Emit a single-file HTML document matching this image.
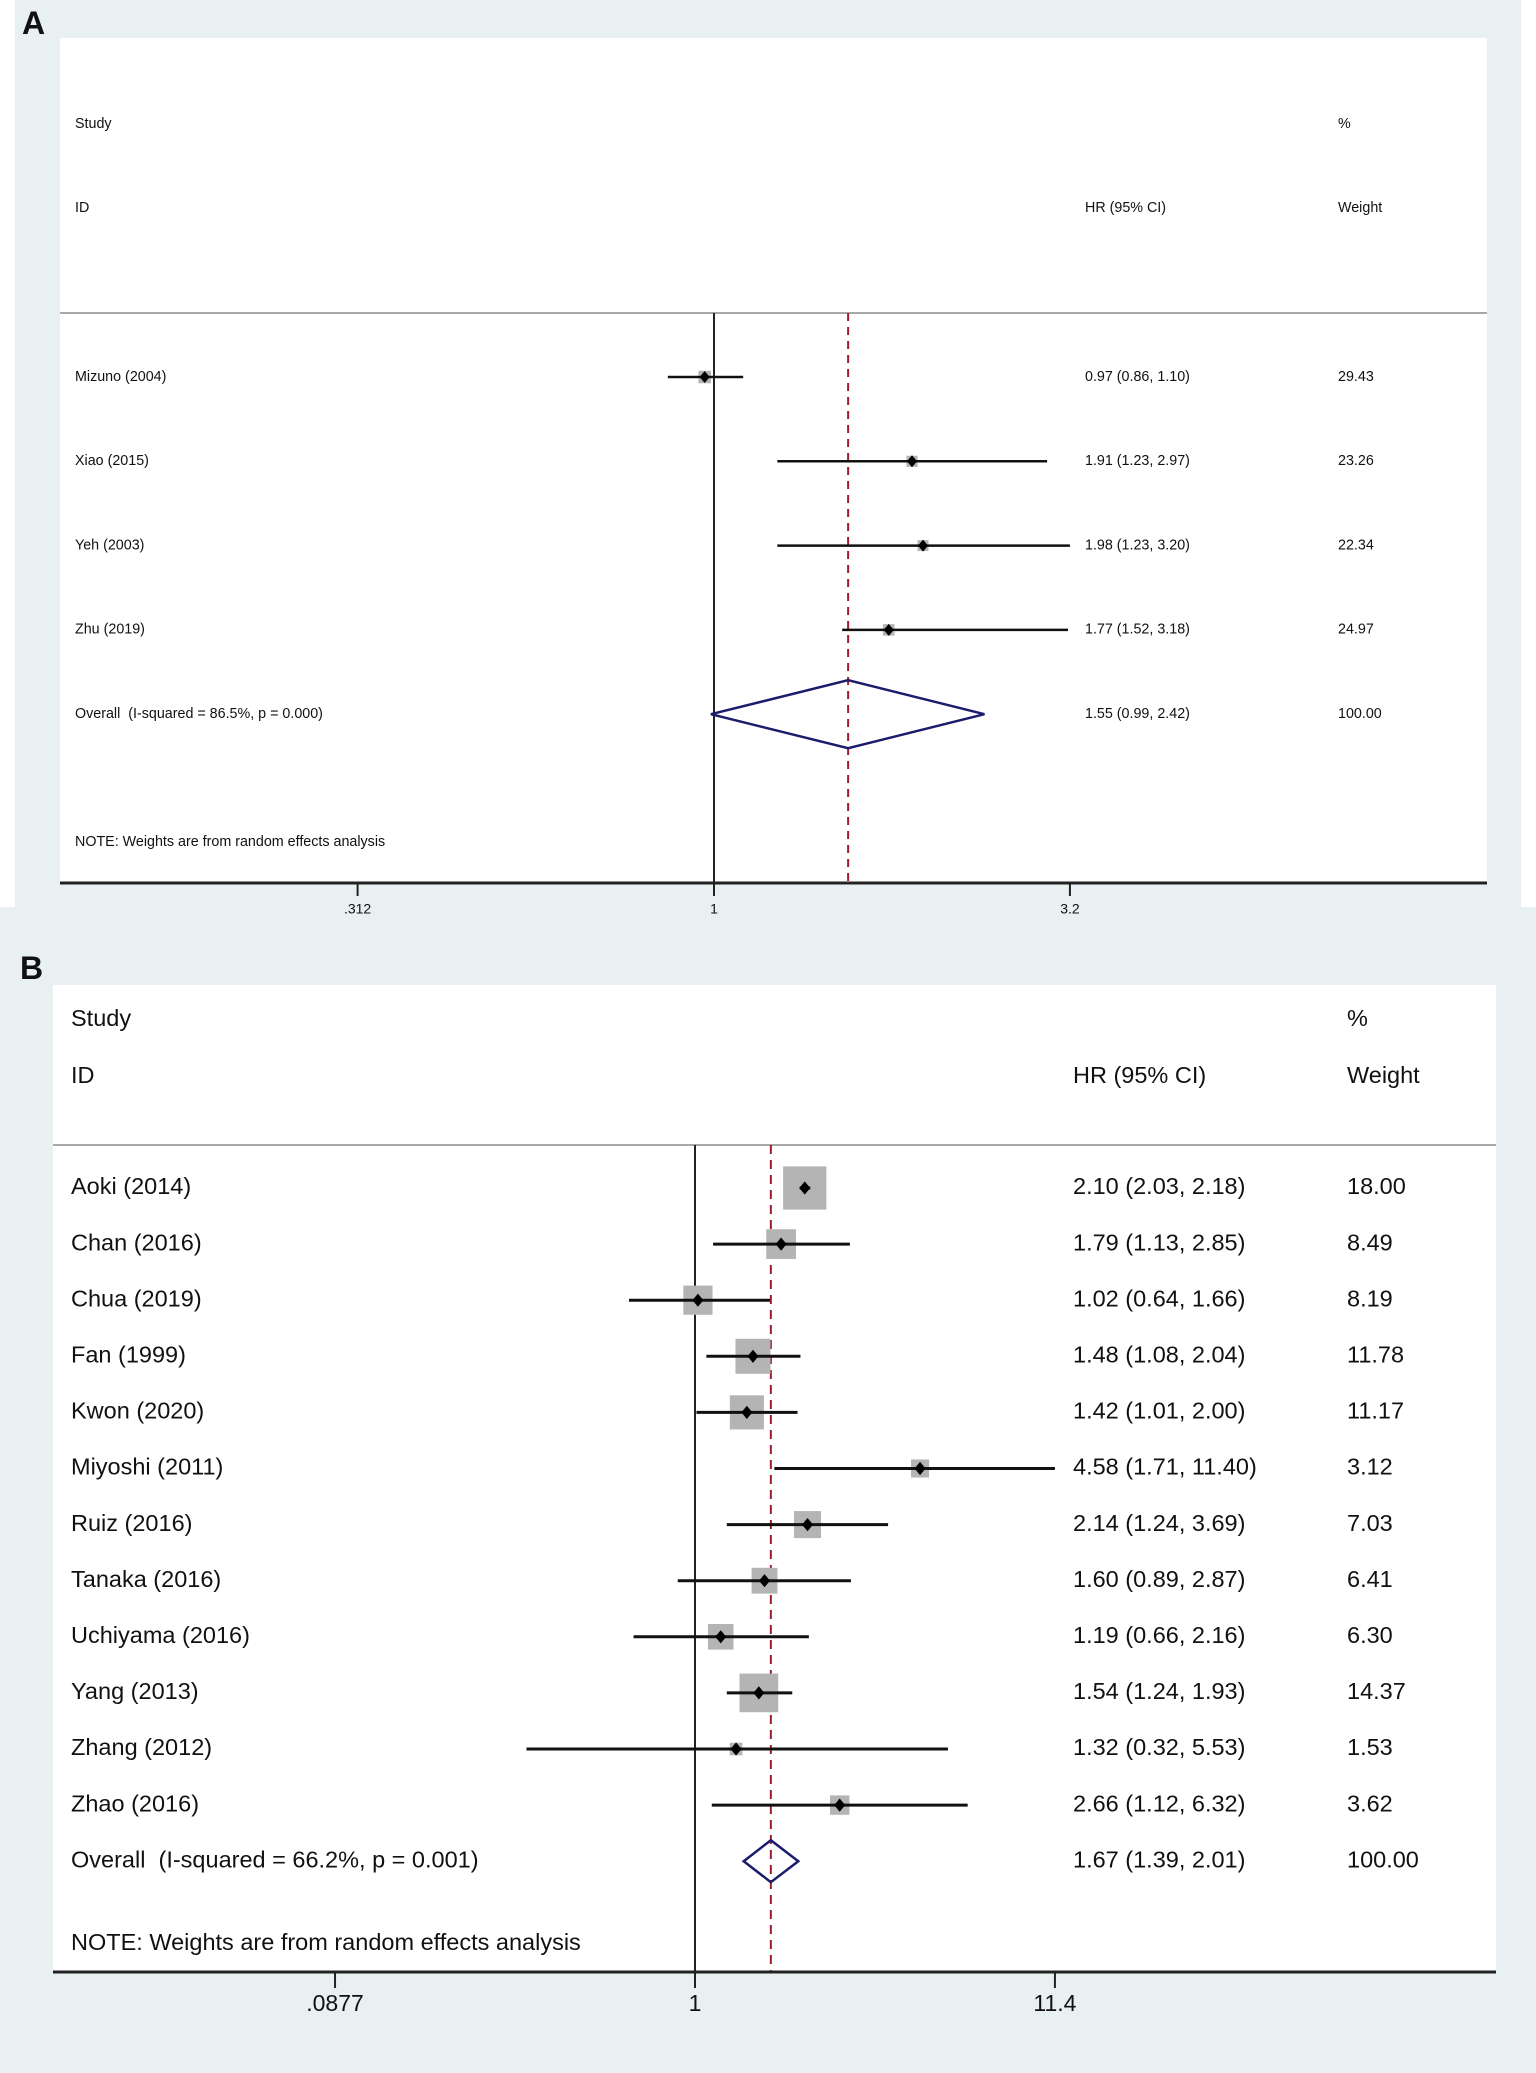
<!DOCTYPE html>
<html><head><meta charset="utf-8"><style>
html,body{margin:0;padding:0;background:#fff;}
svg{display:block;}
text{font-family:"Liberation Sans",Arial,sans-serif;fill:#111;white-space:pre;}
</style></head><body>
<svg id="fig" width="1536" height="2073" viewBox="0 0 1536 2073" xmlns="http://www.w3.org/2000/svg">
<rect x="15" y="0" width="1506" height="907" fill="#e8f0f2"/>
<rect x="0" y="907" width="1536" height="1166" fill="#e8f0f2"/>
<rect x="60" y="38" width="1427" height="845" fill="#fff"/>
<rect x="53" y="985" width="1443" height="988" fill="#fff"/>
<text x="22" y="34" font-size="32" font-weight="bold">A</text>
<text x="20" y="979" font-size="32" font-weight="bold">B</text>
<g id="ga"></g>
<g id="gb"></g>
</svg>
<script>
// Panel A data
const aStudies = ["Mizuno (2004)", "Xiao (2015)", "Yeh (2003)", "Zhu (2019)"];
const aHR = [0.97, 1.91, 1.98, 1.77];
const aLo = [0.86, 1.23, 1.23, 1.52];
const aHi = [1.10, 2.97, 3.20, 3.18];
const aWeight = ["29.43", "23.26", "22.34", "24.97"];
const aOverall = [1.55, 0.99, 2.42];
const aOverallLabel = "Overall  (I-squared = 86.5%, p = 0.000)";
const aTicks = [0.312, 1, 3.2];
const aTickLabels = [".312", "1", "3.2"];

// Panel B data
const bStudies = ["Aoki (2014)", "Chan (2016)", "Chua (2019)", "Fan (1999)", "Kwon (2020)", "Miyoshi (2011)", "Ruiz (2016)", "Tanaka (2016)", "Uchiyama (2016)", "Yang (2013)", "Zhang (2012)", "Zhao (2016)"];
const bHR = [2.10, 1.79, 1.02, 1.48, 1.42, 4.58, 2.14, 1.60, 1.19, 1.54, 1.32, 2.66];
const bLo = [2.03, 1.13, 0.64, 1.08, 1.01, 1.71, 1.24, 0.89, 0.66, 1.24, 0.32, 1.12];
const bHi = [2.18, 2.85, 1.66, 2.04, 2.00, 11.40, 3.69, 2.87, 2.16, 1.93, 5.53, 6.32];
const bWeight = ["18.00", "8.49", "8.19", "11.78", "11.17", "3.12", "7.03", "6.41", "6.30", "14.37", "1.53", "3.62"];
const bOverall = [1.67, 1.39, 2.01];
const bOverallLabel = "Overall  (I-squared = 66.2%, p = 0.001)";
const bTicks = [0.0877, 1, 11.4];
const bTickLabels = [".0877", "1", "11.4"];

const NS = "http://www.w3.org/2000/svg";
function mk(parent, tag, attrs, txt) {
  const e = document.createElementNS(NS, tag);
  for (const k in attrs) e.setAttribute(k, attrs[k]);
  if (txt !== undefined) e.textContent = txt;
  parent.appendChild(e);
  return e;
}
const fmt = v => v.toFixed(2);

function drawPanel(g, cfg, studies, hr, lo, hi, wt, ov, ovLabel, ticks, tickLabels) {
  const x = v => cfg.x1 + Math.log(v) * cfg.pxPerLn;
  const rowY = i => cfg.row0 + cfg.rowStep * i;
  const fs = cfg.fs;
  let e;
  e = mk(g, "text", {x: cfg.tx, y: cfg.hy1, "font-size": fs, "dominant-baseline": "middle"}, "Study");
  
  
  e = mk(g, "text", {x: cfg.wx, y: cfg.hy1, "font-size": fs, "dominant-baseline": "middle"}, "%");
  
  
  e = mk(g, "text", {x: cfg.tx, y: cfg.hy2, "font-size": fs, "dominant-baseline": "middle"}, "ID");
  
  
  e = mk(g, "text", {x: cfg.hx, y: cfg.hy2, "font-size": fs, "dominant-baseline": "middle"}, "HR (95% CI)");
  
  
  e = mk(g, "text", {x: cfg.wx, y: cfg.hy2, "font-size": fs, "dominant-baseline": "middle"}, "Weight");
  
  
  e = mk(g, "line", {x1: cfg.left, x2: cfg.right, y1: cfg.sep, y2: cfg.sep, stroke: "#a8a8a8", "stroke-width": 2});
  
  
  e = mk(g, "line", {x1: x(1), x2: x(1), y1: cfg.sep, y2: cfg.axisY, stroke: "#222", "stroke-width": 2});
  
  
  e = mk(g, "line", {x1: x(ov[0]), x2: x(ov[0]), y1: cfg.sep, y2: cfg.axisY, stroke: "#a01c2c", "stroke-width": 2, "stroke-dasharray": cfg.dash});
  
  
  for (let i = 0; i < studies.length; i++) {
    const y = rowY(i);
    const s = cfg.boxK * Math.sqrt(parseFloat(wt[i]));
    e = mk(g, "rect", {x: x(hr[i]) - s / 2, y: y - s / 2, width: s, height: s, fill: "#b4b4b4"});
    
    
    e = mk(g, "line", {x1: x(lo[i]), x2: x(hi[i]), y1: y, y2: y, stroke: "#111", "stroke-width": cfg.ciW});
    
    
    const m = cfg.mk, cx = x(hr[i]);
    e = mk(g, "polygon", {points: `${cx - m},${y} ${cx},${y - m * 1.2} ${cx + m},${y} ${cx},${y + m * 1.2}`, fill: "#000"});
    
    
    e = mk(g, "text", {x: cfg.tx, y: y, "font-size": fs, "dominant-baseline": "middle"}, studies[i]);
    
    
    e = mk(g, "text", {x: cfg.hx, y: y, "font-size": fs, "dominant-baseline": "middle"}, `${fmt(hr[i])} (${fmt(lo[i])}, ${fmt(hi[i])})`);
    
    
    e = mk(g, "text", {x: cfg.wx, y: y, "font-size": fs, "dominant-baseline": "middle"}, wt[i]);
    
    
  }
  const oy = rowY(studies.length) + cfg.ovExtra;
  e = mk(g, "polygon", {points: `${x(ov[1])},${oy} ${x(ov[0])},${oy - cfg.dh} ${x(ov[2])},${oy} ${x(ov[0])},${oy + cfg.dh}`, fill: "none", stroke: "#1c1c6c", "stroke-width": 2.5});
  
  
  e = mk(g, "text", {x: cfg.tx, y: oy, "font-size": fs, "dominant-baseline": "middle"}, ovLabel);
  
  
  e = mk(g, "text", {x: cfg.hx, y: oy, "font-size": fs, "dominant-baseline": "middle"}, `${fmt(ov[0])} (${fmt(ov[1])}, ${fmt(ov[2])})`);
  
  
  e = mk(g, "text", {x: cfg.wx, y: oy, "font-size": fs, "dominant-baseline": "middle"}, "100.00");
  
  
  e = mk(g, "text", {x: cfg.tx, y: cfg.noteY, "font-size": fs, "dominant-baseline": "middle"}, "NOTE: Weights are from random effects analysis");
  
  
  e = mk(g, "line", {x1: cfg.left, x2: cfg.right, y1: cfg.axisY, y2: cfg.axisY, stroke: "#222", "stroke-width": 3});
  
  
  for (let i = 0; i < ticks.length; i++) {
    const tx = x(ticks[i]);
    e = mk(g, "line", {x1: tx, x2: tx, y1: cfg.axisY, y2: cfg.axisY + cfg.tickLen, stroke: "#222", "stroke-width": 2});
    
    
    e = mk(g, "text", {x: tx, y: cfg.tickLabelY, "font-size": cfg.tfs, "text-anchor": "middle", "dominant-baseline": "middle"}, tickLabels[i]);
    
    
  }
}

drawPanel(document.getElementById("ga"), {
  x1: 714, pxPerLn: 306, left: 60, right: 1487, sep: 313, axisY: 883,
  row0: 377, rowStep: 84.3, ovExtra: 0, tx: 75, hx: 1085, wx: 1338,
  hy1: 124, hy2: 208, noteY: 842, fs: 14.3, tfs: 14, tickLen: 13, tickLabelY: 910,
  boxK: 2.3, ciW: 2.5, mk: 5, dh: 34, dash: "8,6"
}, aStudies, aHR, aLo, aHi, aWeight, aOverall, aOverallLabel, aTicks, aTickLabels);

drawPanel(document.getElementById("gb"), {
  x1: 695, pxPerLn: 147.9, left: 53, right: 1496, sep: 1145, axisY: 1972,
  row0: 1188, rowStep: 56.1, ovExtra: 0, tx: 71, hx: 1073, wx: 1347,
  hy1: 1020, hy2: 1077, noteY: 1944, fs: 23.5, tfs: 23, tickLen: 16, tickLabelY: 2005,
  boxK: 10.2, ciW: 3, mk: 5.5, dh: 21, dash: "9,6"
}, bStudies, bHR, bLo, bHi, bWeight, bOverall, bOverallLabel, bTicks, bTickLabels);
</script>
</body></html>
